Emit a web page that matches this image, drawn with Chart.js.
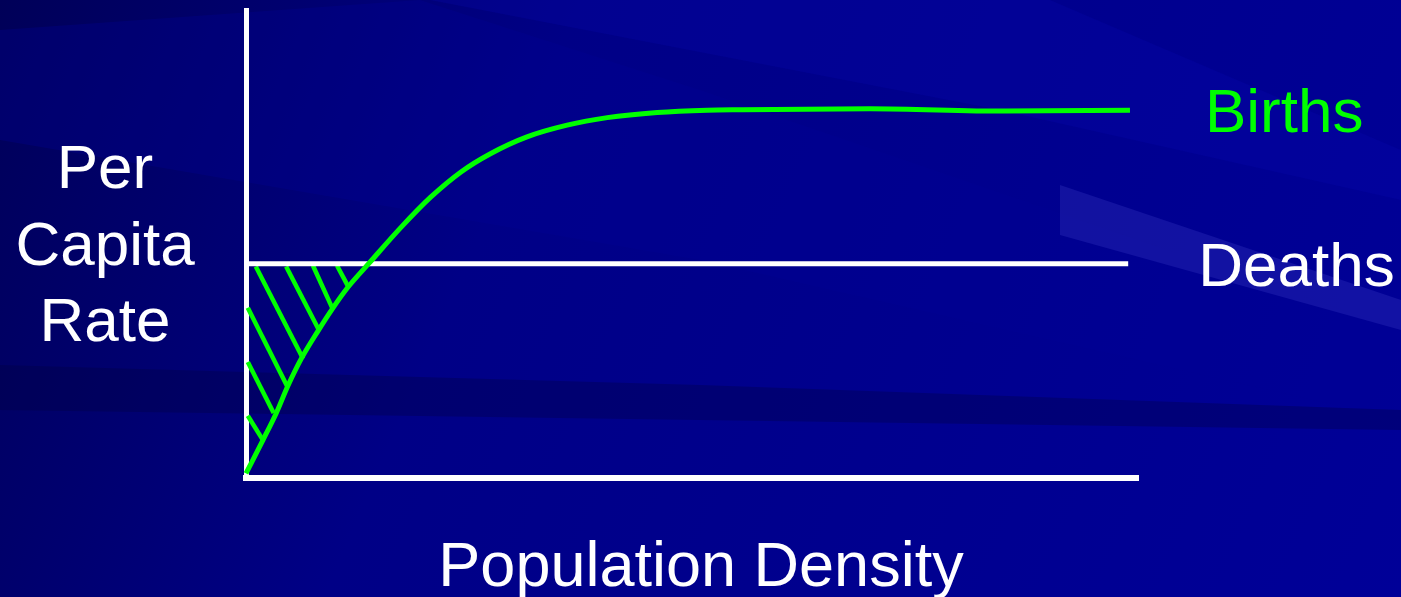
<!DOCTYPE html>
<html lang="en">
<head>
    <meta charset="UTF-8">
    <title>Births and Deaths</title>
    <script src="https://cdn.jsdelivr.net/npm/chart.js@4.4.1/dist/chart.umd.min.js"></script>
    <style>
        html, body { margin: 0; padding: 0; background: #00008c; overflow: hidden; }
        canvas { display: block; }
    </style>
</head>
<body>
    <canvas id="myChart" width="1401" height="597"></canvas>
    <script>
        // births curve (per capita rate vs population density, 0-100 units)
        const birthsX = [0, 1.9, 3.4, 4.7, 6.2, 8.1, 9.7, 11.4, 13.8, 17.4, 20.7, 24.1, 27.4, 31.5, 36.0, 40.5, 46.1, 51.7, 55.4, 70.0, 85.0, 99.1];
        const birthsY = [1, 8.1, 13.9, 19.7, 25.5, 31.5, 36.2, 40.7, 45.9, 53.6, 60.0, 65.4, 69.3, 72.9, 75.4, 77.0, 78.1, 78.6, 78.7, 78.9, 78.4, 78.6];

        // deaths: constant rate
        const deathsX = [0, 98.9];
        const deathsY = [45.8, 45.8];

        // hatching between deaths line and births curve
        const hatchX1 = [1.1, 4.5, 7.5, 10.2, 0.2, 0.2, 0.2];
        const hatchY1 = [45.2, 45.2, 45.4, 45.4, 36.4, 24.8, 13.3];
        const hatchX2 = [6.4, 8.2, 9.7, 11.4, 4.7, 3.1, 1.9];
        const hatchY2 = [25.5, 31.5, 36.2, 41.1, 19.3, 13.9, 8.1];

        const seriesNames = ["Births", "Deaths"];
        const yTitle = ["Per", "Capita", "Rate"];
        const xTitle = "Population Density";

        const green = "#00ff00";
        const FONT = '62px "Liberation Sans", Arial, sans-serif';

        function pts(xs, ys) {
            return xs.map((x, i) => ({x: x, y: ys[i]}));
        }

        const datasets = [
            {label: seriesNames[0], data: pts(birthsX, birthsY), borderColor: green, borderWidth: 5, cubicInterpolationMode: "monotone"},
            {label: seriesNames[1], data: pts(deathsX, deathsY), borderColor: "#ffffff", borderWidth: 5, tension: 0}
        ];
        for (let i = 0; i < hatchX1.length; i++) {
            datasets.push({
                label: "hatch" + i,
                data: [{x: hatchX1[i], y: hatchY1[i]}, {x: hatchX2[i], y: hatchY2[i]}],
                borderColor: green, borderWidth: 4.5, tension: 0
            });
        }
        datasets.forEach(d => { d.pointRadius = 0; d.fill = false; d.clip = false; d.borderCapStyle = "butt"; });

        // slide-like background with soft streaks
        const background = {
            id: "background",
            beforeDraw(chart) {
                const c = chart.ctx, w = chart.width, h = chart.height;
                c.save();
                let g = c.createLinearGradient(0, 0, w, h);
                g.addColorStop(0, "#000058");
                g.addColorStop(0.35, "#000086");
                g.addColorStop(1, "#000098");
                c.fillStyle = g;
                c.fillRect(0, 0, w, h);

                function poly(p, col) {
                    c.beginPath();
                    c.moveTo(p[0][0], p[0][1]);
                    for (let i = 1; i < p.length; i++) c.lineTo(p[i][0], p[i][1]);
                    c.closePath();
                    c.fillStyle = col;
                    c.fill();
                }
                poly([[430, 0], [1050, 0], [1401, 150], [1401, 200], [1000, 110]], "rgba(10,10,180,0.22)");
                poly([[0, 30], [420, 0], [700, 90], [1401, 330], [1401, 420], [700, 260], [0, 140]], "rgba(0,0,150,0.3)");
                poly([[1060, 185], [1401, 300], [1401, 330], [1060, 235]], "rgba(60,60,200,0.3)");
                poly([[0, 365], [700, 385], [1401, 410], [1401, 430], [700, 420], [0, 410]], "rgba(0,0,60,0.3)");
                c.restore();
            }
        };

        // series names at line ends and axis titles
        const labels = {
            id: "labels",
            afterDraw(chart) {
                const c = chart.ctx;
                c.save();
                c.font = FONT;
                c.textBaseline = "alphabetic";
                c.textAlign = "left";
                [0, 1].forEach(k => {
                    const meta = chart.getDatasetMeta(k);
                    const last = meta.data[meta.data.length - 1];
                    c.fillStyle = k == 0 ? green : "#ffffff";
                    c.fillText(seriesNames[k], last.x + (k == 0 ? 75 : 70), last.y + 22);
                });
                c.fillStyle = "#ffffff";
                c.textAlign = "center";
                yTitle.forEach((t, i) => c.fillText(t, 105, 188 + i * 76.5));
                c.font = '63px "Liberation Sans", Arial, sans-serif';
                c.fillText(xTitle, 701, 586);
                c.restore();
            }
        };

        new Chart("myChart", {
            type: "line",
            data: {datasets: datasets},
            options: {
                responsive: false,
                animation: false,
                events: [],
                layout: {padding: {left: 238, top: 10, right: 263, bottom: 111}},
                plugins: {legend: {display: false}, tooltip: {enabled: false}, title: {display: false}},
                scales: {
                    x: {
                        type: "linear", min: 0, max: 100,
                        ticks: {display: false},
                        grid: {display: false},
                        border: {display: true, color: "#ffffff", width: 6}
                    },
                    y: {
                        min: 0, max: 100,
                        ticks: {display: false},
                        grid: {display: false},
                        border: {display: true, color: "#ffffff", width: 5}
                    }
                }
            },
            plugins: [background, labels]
        });
    </script>
</body>
</html>
